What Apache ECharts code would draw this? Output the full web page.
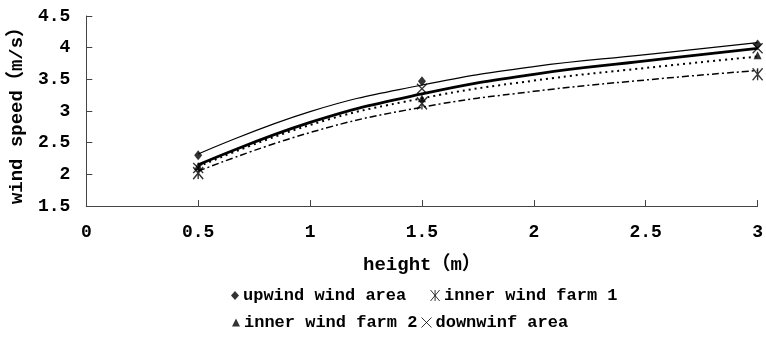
<!DOCTYPE html>
<html>
<head>
<meta charset="utf-8">
<script src="https://cdn.jsdelivr.net/npm/echarts@6/dist/echarts.min.js"></script>
<style>
html,body{margin:0;padding:0;background:#fff;}
#chart{width:766px;height:349px;}
</style>
</head>
<body>
<div id="chart"></div>
<script>
// Measured points
var heights = [0.5, 1.5, 3];
var upwind = [2.30, 3.47, 4.05];
var innerFarm1 = [2.02, 3.12, 3.58];
var innerFarm2 = [2.13, 3.20, 3.88];
var downwinf = [2.10, 3.35, 3.99];

// Trend lines
var trendHeights = [0.5, 1, 1.5, 2, 2.5, 3];
var trendUpwind = [2.32, 2.99, 3.41, 3.70, 3.89, 4.08];
var trendDownwinf = [2.15, 2.82, 3.27, 3.58, 3.79, 3.99];
var trendInner2 = [2.12, 2.78, 3.20, 3.48, 3.68, 3.86];
var trendInner1 = [2.05, 2.66, 3.06, 3.31, 3.49, 3.64];

var names = ['upwind wind area', 'inner wind farm 1', 'inner wind farm 2', 'downwinf area'];
var xTitle = 'height（m）';
var yTitle = 'wind speed（m/s）';

var FONT = "'Liberation Mono', 'Noto Sans CJK SC', monospace";
var asteriskPath = 'path://M0,0L10,12M10,0L0,12M5,0L5,12';
var crossPath = 'path://M0,0L10,10M10,0L0,10';

function pairs(xs, ys) { return xs.map(function (x, i) { return [x, ys[i]]; }); }

function trend(name, ys, width, type) {
  return {
    name: name, type: 'line', data: pairs(trendHeights, ys),
    smooth: 0.45,
    showSymbol: false, silent: true, z: 2,
    lineStyle: { color: '#000', width: width, type: type }
  };
}

var legendText = { fontFamily: FONT, fontSize: 17, fontWeight: 'bold', color: '#000', padding: [0, 0, 0, -1] };
function legendItem(name, icon, left, top, w, h, itemStyle) {
  var d = { name: name, icon: icon };
  if (itemStyle) d.itemStyle = itemStyle;
  return {
    data: [d], left: left, top: top, itemWidth: w, itemHeight: h,
    padding: 0, textStyle: legendText, selectedMode: false
  };
}

var chart = echarts.init(document.getElementById('chart'));
chart.setOption({
  animation: false,
  backgroundColor: '#fff',
  textStyle: { fontFamily: FONT, color: '#000' },
  grid: { left: 86, right: 5, top: 16, bottom: 143 },
  xAxis: {
    type: 'value', min: 0, max: 3, interval: 0.5,
    name: xTitle, nameLocation: 'middle', nameGap: 50,
    nameTextStyle: { fontFamily: FONT, fontSize: 19, fontWeight: 'bold', color: '#000' },
    axisLine: { lineStyle: { color: '#444', width: 1 } },
    axisTick: { show: true, inside: true, length: 6, lineStyle: { color: '#444' } },
    axisLabel: { fontFamily: FONT, fontSize: 18, fontWeight: 'bold', color: '#000', margin: 17 },
    splitLine: { show: false }
  },
  yAxis: {
    type: 'value', min: 1.5, max: 4.5, interval: 0.5,
    name: yTitle, nameLocation: 'middle', nameGap: 56, nameRotate: 90,
    nameTextStyle: { fontFamily: FONT, fontSize: 19, fontWeight: 'bold', color: '#000' },
    axisLine: { show: true, lineStyle: { color: '#444', width: 1 } },
    axisTick: { show: true, inside: true, length: 6, lineStyle: { color: '#444' } },
    axisLabel: { fontFamily: FONT, fontSize: 18, fontWeight: 'bold', color: '#000', margin: 16 },
    splitLine: { show: false }
  },
  legend: [
    legendItem(names[0], 'diamond', 231, 287, 8, 9),
    legendItem(names[1], asteriskPath, 430, 287, 10, 11, { color: 'rgba(0,0,0,0)', borderColor: '#000', borderWidth: 1 }),
    legendItem(names[2], 'triangle', 232, 314, 8, 8),
    legendItem(names[3], crossPath, 421, 314, 10, 10, { color: 'rgba(0,0,0,0)', borderColor: '#000', borderWidth: 1 })
  ],
  series: [
    trend('trend upwind', trendUpwind, 1.2, 'solid'),
    trend('trend downwinf', trendDownwinf, 2.8, 'solid'),
    trend('trend inner 2', trendInner2, 2, [2, 4]),
    trend('trend inner 1', trendInner1, 1.5, [7, 3, 2, 3]),
    {
      name: names[0], type: 'scatter', data: pairs(heights, upwind), z: 5,
      symbol: 'diamond', symbolSize: [8, 10], itemStyle: { color: '#000' }
    },
    {
      name: names[1], type: 'scatter', data: pairs(heights, innerFarm1), z: 5,
      symbol: asteriskPath, symbolSize: [10, 12],
      itemStyle: { color: 'rgba(0,0,0,0)', borderColor: '#000', borderWidth: 1.5 }
    },
    {
      name: names[2], type: 'scatter', data: pairs(heights, innerFarm2), z: 5,
      symbol: 'triangle', symbolSize: [8, 8], itemStyle: { color: '#000' }
    },
    {
      name: names[3], type: 'scatter', data: pairs(heights, downwinf), z: 5,
      symbol: crossPath, symbolSize: [10, 10],
      itemStyle: { color: 'rgba(0,0,0,0)', borderColor: '#000', borderWidth: 1.3 }
    }
  ]
});
</script>
</body>
</html>
